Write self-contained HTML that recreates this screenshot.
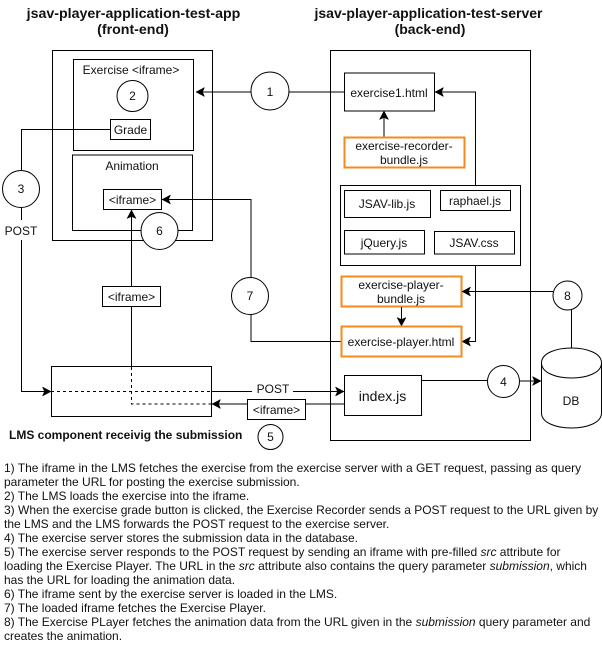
<!DOCTYPE html>
<html><head><meta charset="utf-8"><style>
html,body{margin:0;padding:0;background:#fff}
svg{display:block}
text{font-family:"Liberation Sans",sans-serif;fill:#111;font-size:12px}
.c{text-anchor:middle}
.b{font-weight:bold}
.s{fill:none;stroke:#000;stroke-width:1}
.w{fill:#fff;stroke:#000;stroke-width:1}
.o{fill:#fff;stroke:#f58a1f;stroke-width:2}
.d{fill:none;stroke:#000;stroke-width:1;stroke-dasharray:3 3}
.t{font-size:12px}
</style></head><body>
<svg width="602" height="647" viewBox="0 0 602 647" xmlns="http://www.w3.org/2000/svg">
<defs>
<marker id="a" markerUnits="userSpaceOnUse" markerWidth="11" markerHeight="11" refX="9.500" refY="5.500" orient="auto"><path d="M1 1L9.500 5.500L1 10L3 5.500Z" fill="#000" stroke="#000" stroke-width="0.500"/></marker>
</defs>
<text x="133.500" y="18" class="c b" style="font-size:14.200px">jsav-player-application-test-app</text>
<text x="133" y="34" class="c b" style="font-size:14.200px">(front-end)</text>
<text x="428.500" y="18" class="c b" style="font-size:14px">jsav-player-application-test-server</text>
<text x="430" y="34" class="c b" style="font-size:14px">(back-end)</text>

<rect x="52.500" y="50.500" width="160" height="190" class="w"/>
<rect x="330.500" y="50.500" width="200" height="390" class="w"/>
<rect x="73.500" y="59.500" width="120" height="91" class="w"/>
<rect x="72.500" y="155" width="120" height="75.500" class="w"/>
<path d="M110.500 129.500H21.500V170" class="s"/>
<path d="M21.500 207V220M21.500 240V391.500H51" class="s" marker-end="url(#a)"/>
<rect x="110.500" y="119.500" width="40" height="20" class="w"/>
<text x="130.500" y="134" class="c">Grade</text>
<text x="131" y="74" class="c">Exercise &lt;iframe&gt;</text>
<text x="132" y="170" class="c">Animation</text>
<circle cx="132.500" cy="96" r="15.500" class="w"/><text x="132.500" y="100" class="c">2</text>

<path d="M131.500 366V210" class="s" marker-end="url(#a)"/>
<path d="M344 92H196" class="s" marker-end="url(#a)"/>
<circle cx="270" cy="91" r="19" class="w"/><text x="270" y="96" class="c">1</text>
<circle cx="21" cy="189" r="18.500" class="w"/><text x="21" y="193" class="c">3</text>
<text x="21" y="235" class="c">POST</text>

<rect x="103.500" y="189.500" width="58" height="20" class="w"/>
<text x="132.500" y="204" class="c">&lt;iframe&gt;</text>
<circle cx="159.500" cy="231" r="18.500" class="w"/><text x="159.500" y="235" class="c">6</text>
<path d="M251 277V199.500H162" class="s" marker-end="url(#a)"/>
<path d="M251 315V341.500H341" class="s"/>
<circle cx="250" cy="296" r="18.500" class="w"/><text x="250" y="300" class="c">7</text>
<rect x="102.500" y="286.500" width="58" height="20" class="w"/>
<text x="131.500" y="301" class="c">&lt;iframe&gt;</text>

<rect x="51.500" y="366.500" width="160" height="50" class="w"/>
<path d="M51 391.500H212" class="d"/>
<path d="M131.500 367V404H212" class="d"/>
<path d="M212 391.500H252M293 391.500H344" class="s" marker-end="url(#a)"/>
<text x="273" y="393" class="c">POST</text>
<path d="M247 404H212" class="s" marker-end="url(#a)"/>
<path d="M305 404H344" class="s"/>
<rect x="247.500" y="399.500" width="58" height="20" class="w"/>
<text x="276.500" y="414" class="c">&lt;iframe&gt;</text>
<circle cx="270.500" cy="437" r="12.500" class="w"/><text x="270.500" y="441" class="c">5</text>
<text x="9" y="439" class="b" style="font-size:12px">LMS component receivig the submission</text>

<rect x="344.500" y="73" width="90" height="38" class="w"/>
<text x="389" y="97" class="c">exercise1.html</text>
<path d="M384 138V111" class="s" marker-end="url(#a)"/>
<rect x="344.500" y="137.500" width="120" height="30" class="o"/>
<text x="404" y="150" class="c">exercise-recorder-</text>
<text x="404" y="164" class="c">bundle.js</text>
<path d="M475.500 185V92H435" class="s" marker-end="url(#a)"/>
<rect x="340.500" y="185.500" width="180" height="80" class="w"/>
<rect x="344.500" y="190.500" width="86" height="27" class="w"/>
<text x="387" y="208" class="c">JSAV-lib.js</text>
<rect x="440.500" y="190.500" width="70" height="20" class="w"/>
<text x="475" y="205" class="c">raphael.js</text>
<rect x="344.500" y="230.500" width="80" height="23.500" class="w"/>
<text x="384" y="247" class="c">jQuery.js</text>
<rect x="434.500" y="231.500" width="80" height="22.500" class="w"/>
<text x="474" y="247" class="c">JSAV.css</text>
<path d="M475.500 265V341.500H462" class="s" marker-end="url(#a)"/>
<rect x="341.500" y="276.500" width="120" height="30" class="o"/>
<text x="401" y="289" class="c">exercise-player-</text>
<text x="401" y="303" class="c">bundle.js</text>
<path d="M401.500 307V326" class="s" marker-end="url(#a)"/>
<rect x="341.500" y="326.500" width="120" height="30" class="o"/>
<text x="401" y="346" class="c">exercise-player.html</text>
<path d="M553 291.500H462" class="s" marker-end="url(#a)"/>
<path d="M571.500 310V349" class="s"/>
<circle cx="567.500" cy="295.500" r="14.500" class="w"/><text x="567.500" y="300" class="c">8</text>

<rect x="344.500" y="375.500" width="77" height="40" class="w"/>
<text x="382.500" y="401" class="c" style="font-size:14px">index.js</text>
<path d="M421 380.500H488M520 381H541" class="s" marker-end="url(#a)"/>
<circle cx="503.500" cy="381.500" r="16" class="w"/><text x="503.500" y="386" class="c">4</text>
<path d="M541.500 363C541.500 343 601.500 343 601.500 363V413C601.500 433 541.500 433 541.500 413Z" class="w"/>
<path d="M541.500 363C541.500 383 601.500 383 601.500 363" class="s"/>
<text x="571" y="405" class="c">DB</text>

<text class="t" x="4" y="472">1) The iframe in the LMS fetches the exercise from the exercise server with a GET request, passing as query</text>
<text class="t" x="4" y="486">parameter the URL for posting the exercise submission.</text>
<text class="t" x="4" y="500">2) The LMS loads the exercise into the iframe.</text>
<text class="t" x="4" y="514">3) When the exercise grade button is clicked, the Exercise Recorder sends a POST request to the URL given by</text>
<text class="t" x="4" y="528">the LMS and the LMS forwards the POST request to the exercise server.</text>
<text class="t" x="4" y="542">4) The exercise server stores the submission data in the database.</text>
<text class="t" x="4" y="556">5) The exercise server responds to the POST request by sending an iframe with pre-filled <tspan font-style="italic">src</tspan> attribute for</text>
<text class="t" x="4" y="570">loading the Exercise Player. The URL in the <tspan font-style="italic">src</tspan> attribute also contains the query parameter <tspan font-style="italic">submission</tspan>, which</text>
<text class="t" x="4" y="584">has the URL for loading the animation data.</text>
<text class="t" x="4" y="598">6) The iframe sent by the exercise server is loaded in the LMS.</text>
<text class="t" x="4" y="612">7) The loaded iframe fetches the Exercise Player.</text>
<text class="t" x="4" y="626">8) The Exercise PLayer fetches the animation data from the URL given in the <tspan font-style="italic">submission</tspan> query parameter and</text>
<text class="t" x="4" y="640">creates the animation.</text>
</svg>
</body></html>
